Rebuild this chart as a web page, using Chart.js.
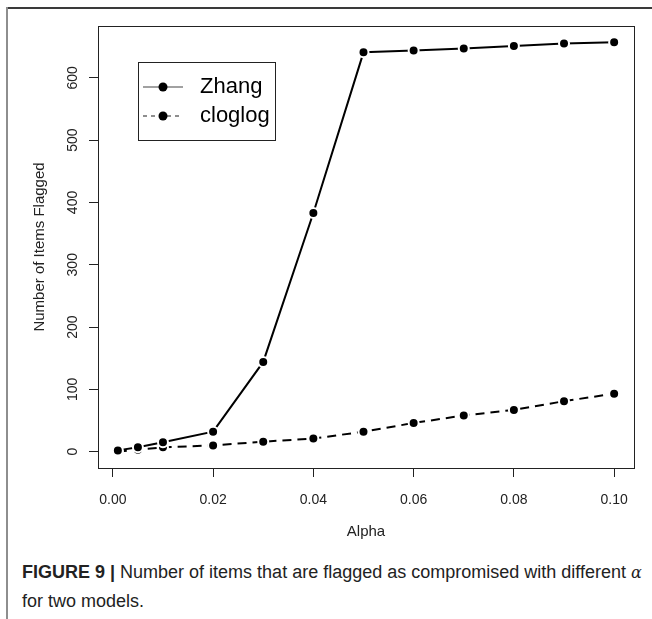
<!DOCTYPE html>
<html lang="en">
<head>
<meta charset="UTF-8">
<title>Figure 9</title>
<script src="https://cdn.jsdelivr.net/npm/chart.js"></script>
<style>
  html, body { margin: 0; padding: 0; background: #fff; }
  body {
    width: 652px; height: 619px; position: relative; overflow: hidden;
    font-family: "Liberation Sans", Arial, sans-serif;
  }
  .frame-top { position: absolute; left: 6px; top: 7px; width: 646px; height: 2px; background: #3a3a3a; }
  .frame-left { position: absolute; left: 6px; top: 7px; width: 2px; height: 612px; background: #8e8e8e; }
  #wrap { position: absolute; left: 0; top: 0; width: 652px; height: 545px; }
  .caption {
    position: absolute; left: 22px; top: 558px; width: 625px;
    font-size: 18px; line-height: 28px; color: #222;
  }
  .caption b { color: #222; }
  .caption i { font-family: "DejaVu Serif", serif; font-size: 16px; }
</style>
</head>
<body>
<div class="frame-top"></div>
<div class="frame-left"></div>
<div id="wrap"><canvas id="chart"></canvas></div>
<div class="caption"><b>FIGURE 9 |</b> Number of items that are flagged as compromised with different <i>α</i> for two models.</div>

<script>
// values
const alpha = [0.001, 0.005, 0.01, 0.02, 0.03, 0.04, 0.05, 0.06, 0.07, 0.08, 0.09, 0.10];
const zhang = [2, 7, 15, 32, 144, 383, 641, 644, 647, 651, 655, 657];
const cloglog = [0, 3, 7, 10, 16, 21, 32, 46, 58, 67, 81, 93];
const xTicks = [0, 0.02, 0.04, 0.06, 0.08, 0.10];
const yTicks = [0, 100, 200, 300, 400, 500, 600];
const seriesNames = ['Zhang', 'cloglog'];

// R style axis range: data range stretched by 4% each side
function rRange(arr) {
  const lo = Math.min(...arr), hi = Math.max(...arr), d = (hi - lo) * 0.04;
  return [lo - d, hi + d];
}
const xr = rRange(alpha);
const yr = rRange(zhang.concat(cloglog));

const toPoints = ys => ys.map((y, i) => ({ x: alpha[i], y: y }));
const FONT = '"Liberation Sans", Arial, sans-serif';

// box round the plot region
const plotBox = {
  id: 'plotBox',
  afterDraw(chart) {
    const a = chart.chartArea, ctx = chart.ctx;
    ctx.save();
    ctx.strokeStyle = '#222';
    ctx.lineWidth = 1;
    ctx.strokeRect(Math.round(a.left) + 0.5, Math.round(a.top) + 0.5,
      Math.round(a.right - a.left), Math.round(a.bottom - a.top));
    ctx.restore();
  }
};

// y tick labels turned 90 degrees like R's default
const yLabels = {
  id: 'yLabels',
  afterDraw(chart) {
    const s = chart.scales.y, ctx = chart.ctx;
    ctx.save();
    ctx.font = '14px ' + FONT;
    ctx.fillStyle = '#222';
    ctx.textAlign = 'center';
    ctx.textBaseline = 'middle';
    s.ticks.forEach(t => {
      const py = s.getPixelForValue(t.value);
      ctx.save();
      ctx.translate(73, py);
      ctx.rotate(-Math.PI / 2);
      ctx.fillText(String(t.value), 0, 0);
      ctx.restore();
    });
    ctx.restore();
  }
};

// legend inside the plot, top left
const legendBox = {
  id: 'legendBox',
  afterDraw(chart) {
    const ctx = chart.ctx;
    const x0 = 138, y0 = 62, w = 137, h = 78;
    ctx.save();
    ctx.fillStyle = '#fff';
    ctx.fillRect(x0, y0, w, h);
    ctx.strokeStyle = '#222';
    ctx.lineWidth = 1;
    ctx.strokeRect(x0 + 0.5, y0 + 0.5, w, h);
    chart.data.datasets.forEach((ds, i) => {
      const ly = y0 + 25 + i * 29;
      ctx.strokeStyle = '#444';
      ctx.lineWidth = 1.2;
      ctx.setLineDash(ds.borderDash && ds.borderDash.length ? [4, 4] : []);
      ctx.beginPath();
      ctx.moveTo(x0 + 5, ly);
      ctx.lineTo(x0 + 45, ly);
      ctx.stroke();
      ctx.setLineDash([]);
      ctx.fillStyle = '#000';
      ctx.beginPath();
      ctx.arc(x0 + 25, ly, 4.5, 0, Math.PI * 2);
      ctx.fill();
      ctx.font = '22px ' + FONT;
      ctx.textAlign = 'left';
      ctx.textBaseline = 'middle';
      ctx.fillText(ds.label, x0 + 62, ly);
    });
    ctx.restore();
  }
};

new Chart(document.getElementById('chart'), {
  type: 'line',
  data: {
    datasets: [
      {
        label: seriesNames[0],
        data: toPoints(zhang),
        borderColor: '#000',
        borderWidth: 2,
        pointRadius: 5,
        pointBackgroundColor: '#000',
        pointBorderColor: '#fff',
        pointBorderWidth: 2,
        tension: 0
      },
      {
        label: seriesNames[1],
        data: toPoints(cloglog),
        borderColor: '#000',
        borderWidth: 2,
        borderDash: [9, 6],
        pointRadius: 5,
        pointBackgroundColor: '#000',
        pointBorderColor: '#fff',
        pointBorderWidth: 2,
        tension: 0
      }
    ]
  },
  options: {
    responsive: true,
    maintainAspectRatio: false,
    animation: false,
    layout: { padding: { left: 0, top: 26, right: 18, bottom: 0 } },
    plugins: { legend: { display: false }, tooltip: { enabled: false } },
    scales: {
      x: {
        type: 'linear',
        min: xr[0],
        max: xr[1],
        afterBuildTicks: s => { s.ticks = xTicks.map(v => ({ value: v })); },
        afterFit: s => { s.height = 77; },
        grid: { drawOnChartArea: false, drawTicks: true, tickLength: 9, color: '#222' },
        border: { display: true, color: '#222' },
        ticks: {
          color: '#222',
          font: { family: FONT, size: 14 },
          padding: 15,
          maxRotation: 0,
          callback: v => v.toFixed(2)
        },
        title: {
          display: true,
          text: 'Alpha',
          color: '#222',
          font: { family: FONT, size: 15 },
          padding: 4
        }
      },
      y: {
        type: 'linear',
        min: yr[0],
        max: yr[1],
        afterBuildTicks: s => { s.ticks = yTicks.map(v => ({ value: v })); },
        afterFit: s => { s.width = 98; },
        grid: { drawOnChartArea: false, drawTicks: true, tickLength: 9, color: '#222' },
        border: { display: true, color: '#222' },
        ticks: { display: false },
        title: {
          display: true,
          text: 'Number of Items Flagged',
          color: '#222',
          font: { family: FONT, size: 15 },
          padding: 31
        }
      }
    }
  },
  plugins: [plotBox, yLabels, legendBox]
});
</script>
</body>
</html>
